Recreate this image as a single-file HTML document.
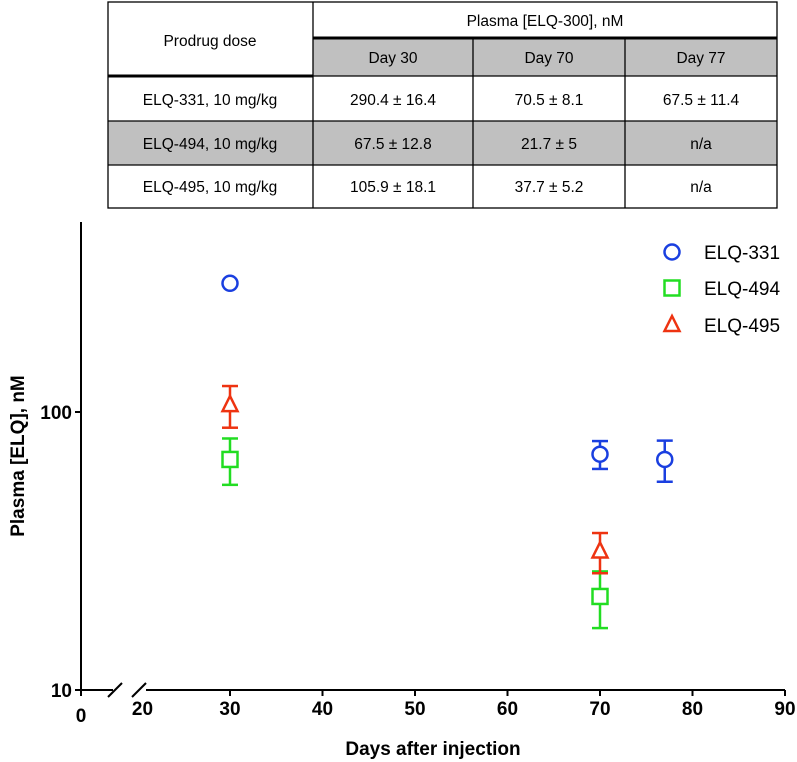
<!DOCTYPE html>
<html><head><meta charset="utf-8"><style>
body{margin:0;background:#fff;width:797px;height:762px;overflow:hidden;font-family:"Liberation Sans",sans-serif;}
#tbl{position:absolute;left:0;top:0;}
svg text{font-family:"Liberation Sans",sans-serif;}
</style></head><body>
<svg id="tbl" width="797" height="215">
 <rect x="313" y="38" width="464" height="38" fill="#c0c0c0"/>
 <rect x="108" y="121" width="669" height="44" fill="#c0c0c0"/>
 <g stroke="#000" stroke-width="1.3" fill="none">
  <rect x="108" y="2" width="669" height="206"/>
  <line x1="313" y1="2" x2="313" y2="208"/>
  <line x1="473" y1="38" x2="473" y2="208"/>
  <line x1="625" y1="38" x2="625" y2="208"/>
  <line x1="313" y1="38" x2="777" y2="38" stroke-width="3"/>
  <line x1="108" y1="76" x2="313" y2="76" stroke-width="3"/>
  <line x1="313" y1="76" x2="777" y2="76"/>
  <line x1="108" y1="121" x2="777" y2="121"/>
  <line x1="108" y1="165" x2="777" y2="165"/>
 </g>
 <g font-size="15.5" text-anchor="middle" fill="#000">
  <text x="210" y="46">Prodrug dose</text>
  <text x="545" y="26">Plasma [ELQ-300], nM</text>
  <text x="393" y="63">Day 30</text><text x="549" y="63">Day 70</text><text x="701" y="63">Day 77</text>
  <text x="210" y="105">ELQ-331, 10 mg/kg</text><text x="393" y="105">290.4 ± 16.4</text><text x="549" y="105">70.5 ± 8.1</text><text x="701" y="105">67.5 ± 11.4</text>
  <text x="210" y="149">ELQ-494, 10 mg/kg</text><text x="393" y="149">67.5 ± 12.8</text><text x="549" y="149">21.7 ± 5</text><text x="701" y="149">n/a</text>
  <text x="210" y="192">ELQ-495, 10 mg/kg</text><text x="393" y="192">105.9 ± 18.1</text><text x="549" y="192">37.7 ± 5.2</text><text x="701" y="192">n/a</text>
 </g>
</svg>
<svg id="chart" width="797" height="762" style="position:absolute;left:0;top:0"></svg>
<script>
const days331=[30,70,77], vals331=[290.4,70.5,67.5], errs331=[16.4,8.1,11.4];
const days494=[30,70], vals494=[67.5,21.7], errs494=[12.8,5];
const days495=[30,70], vals495=[105.9,31.5], errs495=[18.1,5.2];
const xTicks=[20,30,40,50,60,70,80,90];
const yTicks=[10,100];
const svg=document.getElementById('chart');
const NS='http://www.w3.org/2000/svg';
function X(d){return 230+(d-30)*9.25;}
function Y(v){return 690-278*Math.log10(v/10);}
function mk(tag,attrs,parent){const e=document.createElementNS(NS,tag);for(const k in attrs)e.setAttribute(k,attrs[k]);(parent||svg).appendChild(e);return e;}
let ya=mk('line',{x1:81,y1:222,x2:81,y2:690,stroke:'#000','stroke-width':2});


let xa1=mk('line',{x1:81,y1:690,x2:113,y2:690,stroke:'#000','stroke-width':2});


let xa2=mk('line',{x1:146,y1:690,x2:785,y2:690,stroke:'#000','stroke-width':2});


mk('line',{x1:108,y1:697,x2:122,y2:683,stroke:'#000','stroke-width':2});
mk('line',{x1:132,y1:697,x2:146,y2:683,stroke:'#000','stroke-width':2});
mk('line',{x1:81,y1:690,x2:81,y2:696,stroke:'#000','stroke-width':2});
let t0=mk('text',{x:81,y:722,'font-size':19,'font-weight':'bold','text-anchor':'middle'});t0.textContent='0';


xTicks.forEach(d=>{
 if(d>20)mk('line',{x1:X(d),y1:690,x2:X(d),y2:696,stroke:'#000','stroke-width':2});
 const t=mk('text',{x:X(d)+(d==20?5:0),y:715,'font-size':19,'font-weight':'bold','text-anchor':'middle'});t.textContent=d;
 
 
});
yTicks.forEach(v=>{
 mk('line',{x1:75,y1:Y(v),x2:81,y2:Y(v),stroke:'#000','stroke-width':2});
 const t=mk('text',{x:72,y:Y(v)+7,'font-size':19,'font-weight':'bold','text-anchor':'end'});t.textContent=v;
 
 
});
let xt=mk('text',{x:433,y:755,'font-size':19,'font-weight':'bold','text-anchor':'middle'});xt.textContent='Days after injection';


let yt=mk('text',{x:0,y:0,'font-size':19,'font-weight':'bold','text-anchor':'middle',transform:'translate(24,456) rotate(-90)'});yt.textContent='Plasma [ELQ], nM';


function marker(shape,x,y,c,g){
 if(shape=='c')mk('circle',{cx:x,cy:y,r:7.5,fill:'#fff',stroke:c,'stroke-width':2.5},g);
 else if(shape=='s')mk('rect',{x:x-7.5,y:y-7.5,width:15,height:15,fill:'#fff',stroke:c,'stroke-width':2.5},g);
 else mk('polygon',{points:`${x},${y-9} ${x-7.5},${y+6} ${x+7.5},${y+6}`,fill:'#fff',stroke:c,'stroke-width':2.5},g);
}
function series(days,vals,errs,shape,c,name){
 days.forEach((d,i)=>{
  const g=mk('g',{});
  
  
  const x=X(d),y=Y(vals[i]),y1=Y(vals[i]+errs[i]),y2=Y(vals[i]-errs[i]);
  if(y2-y1>24){
   mk('line',{x1:x,y1:y1,x2:x,y2:y2,stroke:c,'stroke-width':2.5},g);
   mk('line',{x1:x-8,y1:y1,x2:x+8,y2:y1,stroke:c,'stroke-width':2.5},g);
   mk('line',{x1:x-8,y1:y2,x2:x+8,y2:y2,stroke:c,'stroke-width':2.5},g);
  }
  marker(shape,x,y,c,g);
 });
}
series(days494,vals494,errs494,'s','#22dd22','elq494');
series(days495,vals495,errs495,'t','#ee3311','elq495');
series(days331,vals331,errs331,'c','#1a3fe0','elq331');
[['c','#1a3fe0','ELQ-331',252],['s','#22dd22','ELQ-494',288],['t','#ee3311','ELQ-495',325]].forEach(l=>{
 const g=mk('g',{});
 
 
 marker(l[0],672,l[3],l[1],g);
 const t=mk('text',{x:704,y:l[3]+7,'font-size':19},g);t.textContent=l[2];
});
</script>
</body></html>
